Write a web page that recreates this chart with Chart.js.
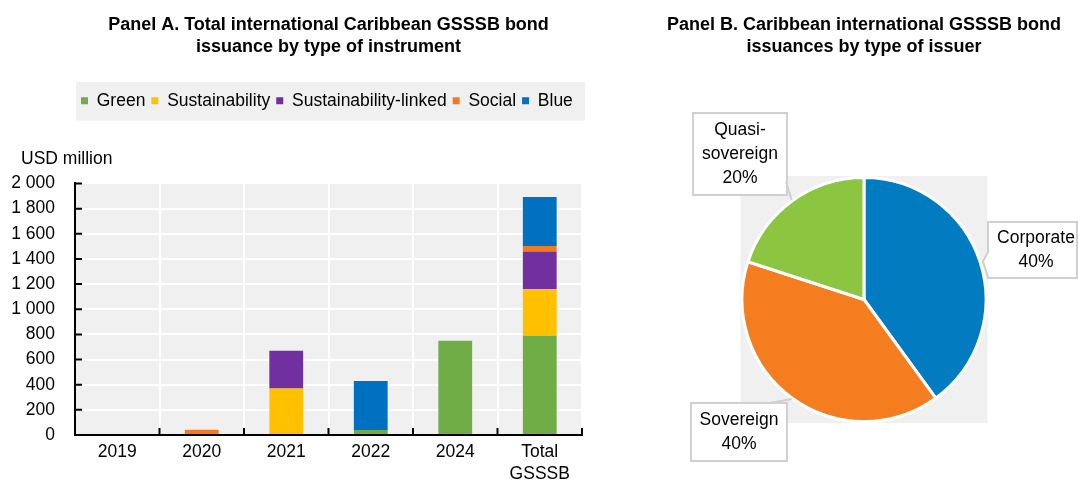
<!DOCTYPE html>
<html>
<head>
<meta charset="utf-8">
<script src="https://cdn.jsdelivr.net/npm/chart.js@4/dist/chart.umd.min.js"></script>
<style>
  body { margin: 0; background: #fff; width: 1078px; height: 484px; overflow: hidden; position: relative; }
  #wrap-bar { position: absolute; left: 0; top: 0; width: 650px; height: 484px; }
  #wrap-pie { position: absolute; left: 650px; top: 0; width: 428px; height: 484px; }
</style>
</head>
<body>
<div id="wrap-bar"><canvas id="canvas-bar"></canvas></div>
<div id="wrap-pie"><canvas id="canvas-pie"></canvas></div>
<script>
// Panel A data (USD million)
var years = ['2019', '2020', '2021', '2022', '2024', ['Total', 'GSSSB']];
var green = [0, 0, 0, 40, 750, 790];
var sustainability = [0, 0, 370, 0, 0, 370];
var sustainabilityLinked = [0, 0, 300, 0, 0, 300];
var social = [0, 42, 0, 0, 0, 42];
var blue = [0, 0, 0, 390, 0, 390];
var yUnit = 'USD million';

// Panel B data (% of issuance)
var issuers = ['Corporate', 'Sovereign', 'Quasi-sovereign'];
var issuerShares = [40, 40, 20];

var FONT = "'Liberation Sans', Arial, sans-serif";
var FONT_SIZE = 17.5;
var PLOT_BG = '#f0f0f0';

// thousands with a space, like "1 200"
function spaced(v) {
    if (v < 1000) return String(v);
    return Math.floor(v / 1000) + ' ' + String(v % 1000).padStart(3, '0');
}

// leave room under the legend for the unit label
var legendGap = {
    id: 'legendGap',
    beforeInit: function(chart) {
        var fit = chart.legend.fit;
        chart.legend.fit = function() {
            fit.bind(chart.legend)();
            this.boxHeight = this.height;
            this.height += 64;
        };
    }
};

// grey background behind plot area and legend, plus unit label
var barBackground = {
    id: 'barBackground',
    beforeDraw: function(chart) {
        var ctx = chart.ctx, a = chart.chartArea, lg = chart.legend;
        ctx.save();
        ctx.fillStyle = PLOT_BG;
        ctx.fillRect(a.left, a.top, a.right - a.left, a.bottom - a.top);
        ctx.fillRect(a.left + 1, lg.top - 4, a.right - a.left + 2, lg.boxHeight + 5);
        ctx.fillStyle = '#000';
        ctx.font = FONT_SIZE + 'px ' + FONT;
        ctx.textAlign = 'left';
        ctx.textBaseline = 'middle';
        ctx.fillText(yUnit, 21, a.top - 24);
        ctx.restore();
    }
};

// short black ticks pointing into the plot
var innerTicks = {
    id: 'innerTicks',
    afterDraw: function(chart) {
        var ctx = chart.ctx, a = chart.chartArea;
        var x = chart.scales.x, y = chart.scales.y;
        var half = (x.getPixelForValue(1) - x.getPixelForValue(0)) / 2;
        ctx.save();
        ctx.strokeStyle = '#000';
        ctx.lineWidth = 2;
        ctx.beginPath();
        y.ticks.forEach(function(t) {
            var py = y.getPixelForValue(t.value);
            ctx.moveTo(a.left, py);
            ctx.lineTo(a.left + 7, py);
        });
        for (var i = 0; i <= years.length; i++) {
            var px = i < years.length ? x.getPixelForValue(i) - half : a.right;
            ctx.moveTo(px, a.bottom);
            ctx.lineTo(px, a.bottom - 7);
        }
        ctx.stroke();
        ctx.restore();
    }
};

var barCtx = document.getElementById('canvas-bar').getContext('2d');
var barChart = new Chart(barCtx, {
    type: 'bar',
    data: {
        labels: years,
        datasets: [
            { label: 'Green', data: green, backgroundColor: '#70ad47' },
            { label: 'Sustainability', data: sustainability, backgroundColor: '#ffc000' },
            { label: 'Sustainability-linked', data: sustainabilityLinked, backgroundColor: '#7030a0' },
            { label: 'Social', data: social, backgroundColor: '#f47a20' },
            { label: 'Blue', data: blue, backgroundColor: '#0070c0' }
        ]
    },
    options: {
        responsive: true,
        maintainAspectRatio: false,
        animation: false,
        datasets: { bar: { barPercentage: 0.4, categoryPercentage: 1 } },
        layout: { padding: { left: 10, right: 68, top: 0, bottom: -7 } },
        scales: {
            x: {
                stacked: true,
                grid: { color: '#fff', lineWidth: 2, drawTicks: false },
                border: { color: '#000', width: 2 },
                ticks: { color: '#000', font: { family: FONT, size: FONT_SIZE, lineHeight: 1.257 }, padding: 6, maxRotation: 0, autoSkip: false }
            },
            y: {
                stacked: true,
                min: 0,
                max: 2000,
                grid: { color: '#fff', lineWidth: 2, drawTicks: false },
                border: { color: '#000', width: 2 },
                ticks: {
                    stepSize: 200,
                    autoSkip: false,
                    color: '#000',
                    font: { family: FONT, size: FONT_SIZE },
                    padding: 20,
                    callback: function(v) { return spaced(v); }
                },
                afterFit: function(scale) { scale.width = 65; }
            }
        },
        plugins: {
            title: {
                display: true,
                fullSize: false,
                text: ['Panel A. Total international Caribbean GSSSB bond', 'issuance by type of instrument'],
                color: '#000',
                font: { family: FONT, size: 18, weight: 'bold', lineHeight: 1.2222 },
                padding: { top: 14, bottom: 28 }
            },
            legend: {
                display: true,
                fullSize: false,
                align: 'start',
                labels: {
                    color: '#000',
                    font: { family: FONT, size: FONT_SIZE },
                    boxWidth: 7,
                    boxHeight: 7,
                    padding: 6
                }
            },
            tooltip: { enabled: false }
        }
    },
    plugins: [legendGap, barBackground, innerTicks]
});

// grey square behind the pie
var pieBackground = {
    id: 'pieBackground',
    beforeDraw: function(chart) {
        var ctx = chart.ctx, a = chart.chartArea;
        var half = (a.bottom - a.top) / 2;
        var cx = (a.left + a.right) / 2;
        ctx.save();
        ctx.fillStyle = PLOT_BG;
        ctx.fillRect(cx - half, a.top, half * 2, half * 2);
        ctx.restore();
    }
};

// boxed labels with leader lines
var pieLabels = {
    id: 'pieLabels',
    afterDraw: function(chart) {
        var ctx = chart.ctx;
        var arcs = chart.getDatasetMeta(0).data;
        // label boxes: [left, top, right, bottom]
        var boxes = [[338, 222, 427, 278], [41, 403, 137, 461], [43, 113, 137, 195]];
        ctx.save();
        ctx.font = FONT_SIZE + 'px ' + FONT;
        ctx.textAlign = 'center';
        ctx.textBaseline = 'middle';
        arcs.forEach(function(arc, i) {
            var p = arc.getProps(['x', 'y', 'startAngle', 'endAngle', 'outerRadius']);
            var mid = (p.startAngle + p.endAngle) / 2;
            var ex = p.x + Math.cos(mid) * (p.outerRadius + 1);
            var ey = p.y + Math.sin(mid) * (p.outerRadius + 1);
            var b = boxes[i];
            var lines = issuers[i].replace('-', '-\n').split('\n');
            lines.push(issuerShares[i] + '%');

            ctx.lineWidth = 2;
            ctx.strokeStyle = '#d0d0d0';
            ctx.fillStyle = '#fff';
            ctx.beginPath();
            if (ex > b[2]) {
                // plain box with a leader line
                ctx.rect(b[0], b[1], b[2] - b[0], b[3] - b[1]);
                ctx.fill();
                ctx.stroke();
                ctx.beginPath();
                if (i === 2) ctx.moveTo(b[2] - 1, b[3] - 13);
                else ctx.moveTo(b[2] - 17, b[1]);
                ctx.lineTo(ex, ey);
                ctx.stroke();
            } else {
                // callout with a pointer on the left edge
                ctx.moveTo(b[0], b[1]);
                ctx.lineTo(b[2], b[1]);
                ctx.lineTo(b[2], b[3]);
                ctx.lineTo(b[0], b[3]);
                ctx.lineTo(b[0], 277);
                ctx.lineTo(ex + 2, ey);
                ctx.lineTo(b[0], 252);
                ctx.closePath();
                ctx.fill();
                ctx.stroke();
            }

            ctx.fillStyle = '#000';
            var cx = i === 0 ? 386 : (b[0] + b[2]) / 2;
            var step = 24;
            var y0 = (b[1] + b[3]) / 2 - (lines.length - 1) * step / 2;
            lines.forEach(function(t, k) {
                ctx.fillText(t, cx, y0 + k * step);
            });
        });
        ctx.restore();
    }
};

var pieCtx = document.getElementById('canvas-pie').getContext('2d');
var pieChart = new Chart(pieCtx, {
    type: 'pie',
    data: {
        labels: issuers,
        datasets: [{
            data: issuerShares,
            backgroundColor: ['#037bc1', '#f47d20', '#8cc640'],
            borderColor: '#fff',
            borderWidth: 3
        }]
    },
    options: {
        responsive: true,
        maintainAspectRatio: false,
        animation: false,
        layout: { padding: { left: 0, right: 0, top: 0, bottom: 61 } },
        plugins: {
            title: {
                display: true,
                text: ['Panel B. Caribbean international GSSSB bond', 'issuances by type of issuer'],
                color: '#000',
                font: { family: FONT, size: 18, weight: 'bold', lineHeight: 1.2222 },
                padding: { top: 14, bottom: 118 }
            },
            legend: { display: false },
            tooltip: { enabled: false }
        }
    },
    plugins: [pieBackground, pieLabels]
});
</script>
</body>
</html>
